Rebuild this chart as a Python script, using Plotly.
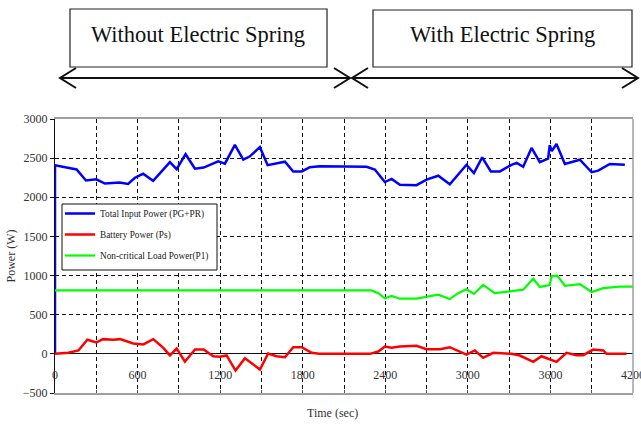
import plotly.graph_objects as go

# ---------------- data ----------------
time_total = [0, 0, 157, 225, 300, 363, 469, 531, 581, 640,
              713, 835, 884, 949, 1017, 1080, 1186, 1235, 1307, 1368,
              1414, 1489, 1545, 1600, 1671, 1731, 1793, 1852, 1925, 2264,
              2324, 2397, 2446, 2506, 2627, 2700, 2785, 2869, 2930, 2990,
              3044, 3104, 3167, 3233, 3317, 3355, 3402, 3463, 3523, 3583,
              3595, 3610, 3644, 3705, 3814, 3899, 3947, 4032, 4141]
total_power = [0, 2410, 2355, 2215, 2230, 2175, 2190, 2170, 2250, 2300,
               2210, 2450, 2360, 2550, 2365, 2380, 2460, 2430, 2670, 2480,
               2520, 2640, 2410, 2430, 2455, 2330, 2330, 2385, 2395, 2390,
               2355, 2195, 2235, 2160, 2155, 2225, 2275, 2165, 2290, 2415,
               2310, 2510, 2330, 2330, 2415, 2440, 2390, 2630, 2450, 2495,
               2665, 2590, 2680, 2425, 2480, 2320, 2340, 2425, 2415]

time_batt = [0, 97, 170, 235, 300, 348, 424, 472, 569, 642,
             714, 787, 835, 884, 944, 1017, 1080, 1150, 1198, 1247,
             1312, 1380, 1489, 1549, 1610, 1671, 1731, 1793, 1865, 1920,
             2288, 2349, 2397, 2446, 2506, 2627, 2700, 2797, 2869, 2990,
             3051, 3111, 3184, 3317, 3378, 3475, 3535, 3583, 3644, 3717,
             3790, 3838, 3911, 3984, 4008, 4153]
battery_power = [0, 13, 43, 180, 145, 188, 180, 188, 132, 120,
                 188, 77, -20, 68, -100, 55, 55, -30, -38, -20,
                 -213, -55, -200, 5, -30, -43, 85, 85, 13, 0,
                 0, 30, 94, 77, 94, 102, 60, 60, 85, -9,
                 43, -51, 13, 0, -21, -102, -30, -60, -102, 13,
                 -17, -17, 55, 43, 0, 0]

time_load = [0, 2300, 2349, 2397, 2446, 2506, 2627, 2700, 2785, 2869,
             2930, 2990, 3044, 3111, 3196, 3293, 3402, 3475, 3523, 3595,
             3608, 3650, 3705, 3814, 3899, 3984, 4105, 4200]
load_power = [810, 810, 775, 710, 740, 705, 705, 730, 755, 700,
              775, 825, 765, 880, 775, 795, 820, 960, 855, 880,
              990, 1000, 870, 890, 790, 840, 860, 860]

series_names = ["Total Input Power (PG+PR)", "Battery Power (Ps)",
                "Non-critical Load Power(P1)"]
x_ticks = [0, 600, 1200, 1800, 2400, 3000, 3600, 4200]
y_ticks = [-500, 0, 500, 1000, 1500, 2000, 2500, 3000]
header_left = "Without Electric Spring"
header_right = "With Electric Spring"
x_title = "Time (sec)"
y_title = "Power (W)"

# ---------------- figure ----------------
W, H = 641, 424
L, R, T, B = 55, 633, 119, 393
SERIF = "Liberation Serif, Times New Roman, serif"


def px(x):
    return (x - L) / (R - L)


def py(y):
    return (B - y) / (B - T)


fig = go.Figure()
fig.add_trace(go.Scatter(x=time_total, y=total_power, mode="lines",
                         name=series_names[0], legendgroup="a",
                         line=dict(color="#0000ff", width=2.5)))
fig.add_trace(go.Scatter(x=time_batt, y=battery_power, mode="lines",
                         name=series_names[1], legendgroup="b",
                         line=dict(color="#ff0000", width=2.5)))
fig.add_trace(go.Scatter(x=time_load, y=load_power, mode="lines",
                         name=series_names[2], legendgroup="c",
                         line=dict(color="#00ff00", width=2.2)))
# carrier trace so the zero-line tick-label axis is drawn
fig.add_trace(go.Scatter(x=[x_ticks[0], x_ticks[-1]], y=[0, 0], xaxis="x2", yaxis="y",
                         mode="lines", line=dict(width=0, color="rgba(0,0,0,0)"),
                         showlegend=False, hoverinfo="skip"))

shapes = []
# gray right border
shapes.append(dict(type="line", xref="paper", yref="paper", x0=1, x1=1, y0=0, y1=1,
                   line=dict(color="#a0a0a0", width=1.5), layer="above"))
# legend frame
shapes.append(dict(type="rect", xref="paper", yref="paper",
                   x0=px(62), x1=px(217), y0=py(270), y1=py(204),
                   line=dict(color="#111111", width=1), fillcolor="white",
                   layer="above"))
# header boxes
for x0, x1, y0, y1 in [(70, 327, 9, 67), (373, 632, 10, 67)]:
    shapes.append(dict(type="rect", xref="paper", yref="paper",
                       x0=px(x0), x1=px(x1), y0=py(y1), y1=py(y0),
                       line=dict(color="#222222", width=1.2), fillcolor="white",
                       layer="below"))
# double-headed arrows
ay = 78
for a, b in [(60, 350), (352, 638)]:
    shapes.append(dict(type="line", xref="paper", yref="paper",
                       x0=px(a), x1=px(b), y0=py(ay), y1=py(ay),
                       line=dict(color="#111111", width=2)))
    for tip, d in [(a, 1), (b, -1)]:
        path = "M {} {} L {} {} L {} {}".format(
            px(tip + d * 16), py(ay - 10), px(tip), py(ay), px(tip + d * 16), py(ay + 10))
        shapes.append(dict(type="path", xref="paper", yref="paper", path=path,
                           line=dict(color="#111111", width=2)))

annotations = [
    dict(text=header_left, xref="paper", yref="paper", x=px(198), y=py(34),
         xanchor="center", yanchor="middle",
         showarrow=False, font=dict(family=SERIF, size=22.5, color="#111111")),
    dict(text=header_right, xref="paper", yref="paper", x=px(502), y=py(35),
         xanchor="center", yanchor="middle",
         showarrow=False, font=dict(family=SERIF, size=22.5, color="#111111")),
    dict(text=x_title, xref="paper", yref="paper", x=px(332), y=py(413),
         xanchor="center", yanchor="middle",
         showarrow=False, font=dict(family=SERIF, size=12, color="#333333")),
]

fig.update_layout(
    width=W, height=H,
    margin=dict(l=L, r=W - R, t=T, b=H - B, pad=0, autoexpand=False),
    paper_bgcolor="white", plot_bgcolor="white",
    showlegend=True,
    legend=dict(x=px(60), y=py(199), xanchor="left", yanchor="top",
                bgcolor="rgba(0,0,0,0)", borderwidth=0,
                font=dict(family=SERIF, size=9.3, color="#222222"),
                tracegroupgap=2, itemwidth=30),
    shapes=shapes,
    annotations=annotations,
    xaxis=dict(range=[0, 4200], dtick=300, tick0=0, showticklabels=False,
               showgrid=True, gridcolor="#111111", griddash="4px,3px", gridwidth=1,
               showline=True, linecolor="#a0a0a0", linewidth=1.5, mirror=True,
               ticks="inside", ticklen=3, tickcolor="#555555",
               zeroline=False, fixedrange=True, automargin=False),
    xaxis2=dict(range=[0, 4200], overlaying="x", anchor="free",
                position=1 / 7, tickvals=x_ticks, showgrid=False, showline=False,
                zeroline=False, ticks="", ticklabelstandoff=12, automargin=False,
                ticklabeloverflow="allow",
                tickfont=dict(family=SERIF, size=12, color="#333333")),
    yaxis=dict(range=[-500, 3000], tickvals=y_ticks, showgrid=True,
               gridcolor="#111111", griddash="4px,3px", gridwidth=1,
               showline=True, linecolor="#111111", linewidth=1.2,
               ticks="outside", ticklen=4, tickcolor="#111111",
               zeroline=True, zerolinecolor="#111111", zerolinewidth=1.2,
               automargin=False,
               tickfont=dict(family=SERIF, size=12, color="#333333"),
               title=dict(text=y_title, standoff=4,
                          font=dict(family=SERIF, size=12, color="#333333"))),
)

fig.write_html("out.html", config={"displayModeBar": False},
               post_script="document.body.style.margin='0';")
